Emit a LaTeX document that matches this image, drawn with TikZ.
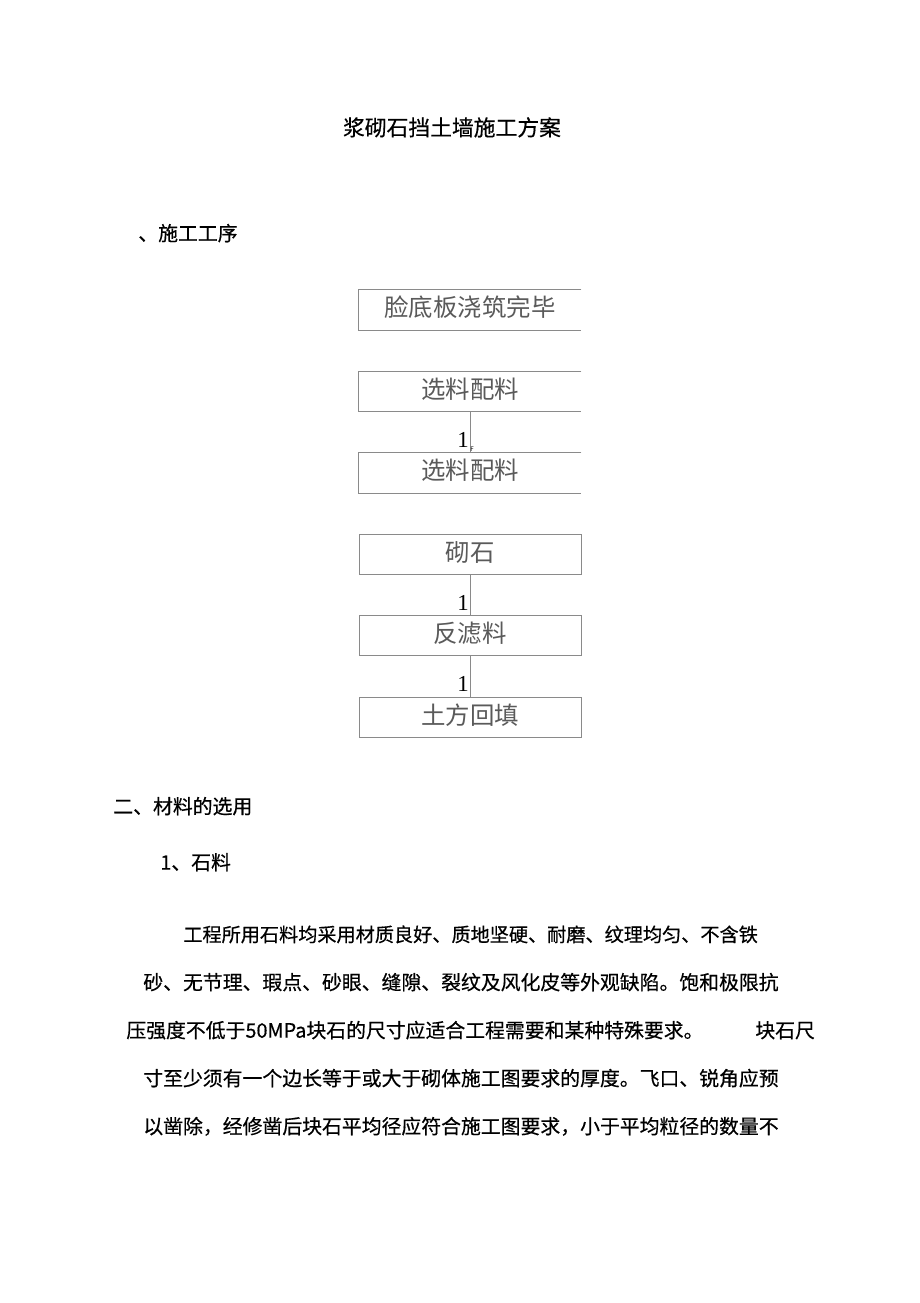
\documentclass[tikz,border=0pt]{standalone}
\usepackage{fontspec}
\setmainfont{Noto Sans CJK SC}
\newfontfamily\bodyfont[FakeBold=0.5]{Noto Sans CJK SC}
\newfontfamily\numfont{Liberation Serif}
\usepackage{xcolor}
\usetikzlibrary{positioning}
\definecolor{boxline}{HTML}{8A8A8A}
\definecolor{boxtext}{HTML}{5A5A5A}

\begin{document}
\begin{tikzpicture}[x=0.02cm,y=-0.02cm]
			\tikzstyle{every node}=[inner sep=0pt, text height=0.88em, text depth=0.12em]
			\tikzstyle{stepbox}=[minimum width=4.44cm, minimum height=0.8cm, font=\fontsize{13.9}{15}\selectfont, text=boxtext]
			\tikzstyle{closedbox}=[stepbox, draw=boxline, line width=0.5pt]
			\tikzstyle{bodyline}=[anchor=west, font=\bodyfont\fontsize{11.3}{13}\selectfont]
			\tikzstyle{countlabel}=[font=\numfont\fontsize{13}{14}\selectfont, text height=, text depth=]
			\useasboundingbox (0,0) rectangle (920,1303);
			\fill[white] (0,0) rectangle (920,1303);
			% title and first heading
			\node [font=\bodyfont\fontsize{12.4}{14}\selectfont] (title) at (452,129) {浆砌石挡土墙施工方案};
			\node [bodyline] (head1) at (138,234) {、施工工序};
			% flow of the work steps
			\node [stepbox] (finish) at (470,310) {脸底板浇筑完毕};
			\node [stepbox] (select1) at (470,391.5) {选料配料};
			\node [stepbox] (select2) at (470,473) {选料配料};
			\node [closedbox] (stone) at (470,554.5) {砌石};
			\node [closedbox] (filter) at (470,635.5) {反滤料};
			\node [closedbox] (backfill) at (470,717.5) {土方回填};
			\foreach \b in {finish,select1,select2}
				\draw [boxline, line width=0.5pt] (\b.north east) -- (\b.north west) -- (\b.south west) -- (\b.south east);
			\draw [boxline, line width=0.5pt] (select1.south) -- (select2.north);
			\draw [boxline, line width=0.5pt] (stone.south) -- (filter.north);
			\draw [boxline, line width=0.5pt] (filter.south) -- (backfill.north);
			\node [countlabel] (one1) at (463,440) {1};
			\node [font=\fontsize{3.5}{4}\selectfont, text height=, text depth=] (tick1) at (472,449) {F};
			\node [countlabel] (one2) at (463,603) {1};
			\node [countlabel] (one3) at (463,684) {1};
			% second part: material
			\node [bodyline] (head2) at (113,807) {二、材料的选用};
			\node [bodyline] (head3) at (160,863) {1、石料};
			\node [bodyline, font=\bodyfont\fontsize{10.9}{13}\selectfont] (para1) at (183,935) {工程所用石料均采用材质良好、质地坚硬、耐磨、纹理均匀、不含铁};
			\node [bodyline] (para2) at (143,983) {砂、无节理、瑕点、砂眼、缝隙、裂纹及风化皮等外观缺陷。饱和极限抗};
			\node [bodyline] (para3) at (126,1031) {压强度不低于50MPa块石的尺寸应适合工程需要和某种特殊要求。};
			\node [bodyline] (para3b) at (755,1031) {块石尺};
			\node [bodyline] (para4) at (143,1079) {寸至少须有一个边长等于或大于砌体施工图要求的厚度。飞口、锐角应预};
			\node [bodyline] (para5) at (143,1127) {以凿除，经修凿后块石平均径应符合施工图要求，小于平均粒径的数量不};
		\end{tikzpicture}
\end{document}
